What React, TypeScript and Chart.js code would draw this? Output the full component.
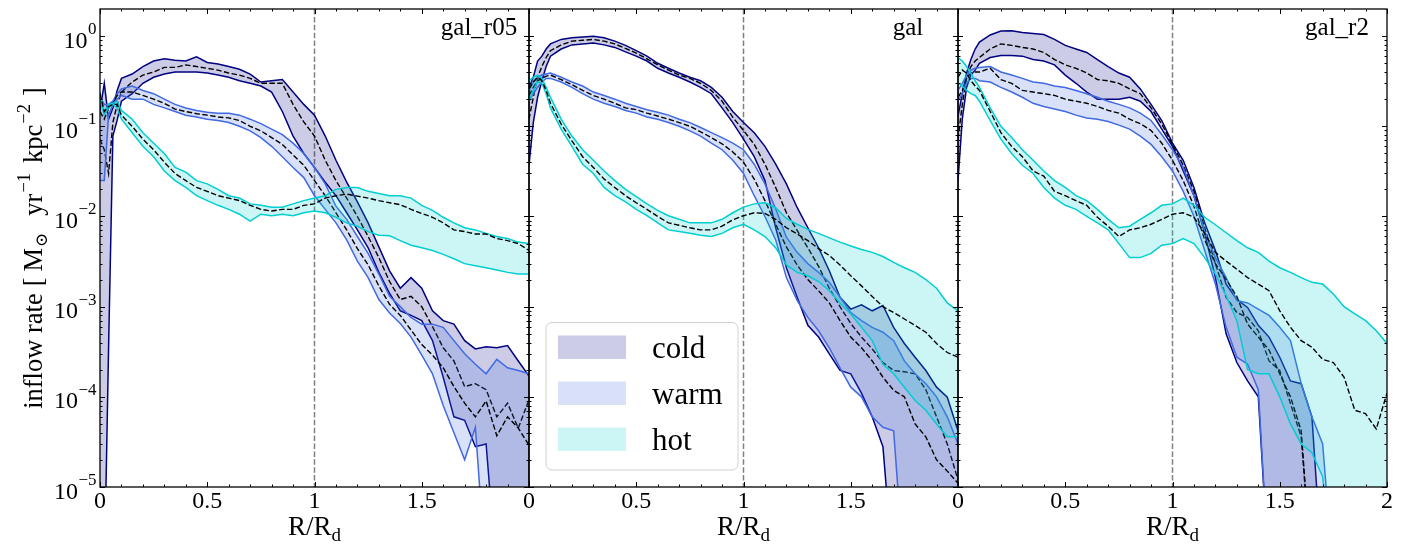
import React, { useEffect, useRef } from "react";
import { Chart, registerables } from "chart.js";

Chart.register(...registerables);

// ---------------- data ----------------
const xs = [0, 0.02, 0.04, 0.06, 0.08, 0.1, 0.15, 0.2, 0.25, 0.3, 0.35, 0.4, 0.45, 0.5, 0.55, 0.6, 0.65, 0.7, 0.75, 0.8, 0.85, 0.9, 0.95, 1.0, 1.05, 1.1, 1.15, 1.2, 1.25, 1.3, 1.35, 1.4, 1.45, 1.5, 1.55, 1.6, 1.65, 1.7, 1.75, 1.8, 1.85, 1.9, 1.95, 2.0];

// gal_r05
const r05ColdHi = [0.15, 0.30, 0.12, 0.16, 0.25, 0.34, 0.38, 0.46, 0.53, 0.56, 0.54, 0.53, 0.59, 0.51, 0.49, 0.46, 0.43, 0.38, 0.31, 0.32, 0.33, 0.24, 0.175, 0.133, 0.078, 0.042, 0.024, 0.0145, 0.0085, 0.0046, 0.0025, 0.0016, 0.0021, 0.0016, 9e-4, 7e-4, 6.4e-4, 4.2e-4, 3.4e-4, 3.6e-4, 3.5e-4, 3.7e-4, 2.5e-4, 1.7e-4];
const r05ColdLo = [1e-6, 1e-6, 3.5e-4, 0.078, 0.117, 0.19, 0.23, 0.30, 0.35, 0.38, 0.40, 0.40, 0.40, 0.39, 0.37, 0.35, 0.32, 0.30, 0.28, 0.24, 0.146, 0.078, 0.050, 0.035, 0.024, 0.017, 0.011, 0.0071, 0.0045, 0.0024, 0.0014, 9e-4, 8e-4, 7e-4, 4.2e-4, 1.65e-4, 6e-5, 5.5e-5, 2.8e-5, 3e-5, 1e-6, 1e-6, 1e-6, 1e-6];
const r05ColdMed = [0.072, 0.055, 0.03, 0.11, 0.175, 0.24, 0.31, 0.37, 0.40, 0.45, 0.45, 0.48, 0.46, 0.44, 0.42, 0.39, 0.37, 0.34, 0.30, 0.30, 0.30, 0.175, 0.112, 0.078, 0.042, 0.025, 0.016, 0.010, 0.0060, 0.0035, 0.0019, 0.0012, 0.0013, 0.0010, 6e-4, 3.5e-4, 2.5e-4, 1.3e-4, 1.4e-4, 1.2e-4, 6e-5, 8.5e-5, 4.5e-5, 9.3e-5];
const r05WarmHi = [0.21, 0.175, 0.175, 0.19, 0.23, 0.26, 0.28, 0.25, 0.23, 0.20, 0.175, 0.16, 0.15, 0.143, 0.14, 0.14, 0.133, 0.12, 0.107, 0.093, 0.081, 0.065, 0.050, 0.035, 0.023, 0.013, 0.0093, 0.0060, 0.0039, 0.0023, 0.0013, 0.0010, 7.6e-4, 6.4e-4, 6.4e-4, 5.9e-4, 4.2e-4, 3e-4, 2.3e-4, 1.8e-4, 2.6e-4, 2.1e-4, 1.96e-4, 1.8e-4];
const r05WarmLo = [0.025, 0.025, 0.133, 0.175, 0.20, 0.22, 0.20, 0.20, 0.175, 0.16, 0.146, 0.133, 0.127, 0.12, 0.116, 0.11, 0.10, 0.089, 0.075, 0.060, 0.046, 0.035, 0.027, 0.017, 0.012, 0.0085, 0.0055, 0.0032, 0.0021, 0.0012, 8.5e-4, 6.5e-4, 4.6e-4, 2.9e-4, 1.8e-4, 8e-5, 4e-5, 2e-5, 4.6e-5, 1e-6, 1e-6, 1e-6, 1e-6, 1e-6];
const r05WarmMed = [0.146, 0.12, 0.16, 0.18, 0.22, 0.24, 0.24, 0.22, 0.20, 0.18, 0.155, 0.146, 0.138, 0.133, 0.127, 0.124, 0.116, 0.10, 0.089, 0.075, 0.063, 0.048, 0.037, 0.025, 0.017, 0.011, 0.0071, 0.0044, 0.0029, 0.0017, 0.00106, 8e-4, 5.5e-4, 3.8e-4, 2.9e-4, 2.1e-4, 1.3e-4, 8.5e-5, 6e-5, 9e-5, 3.7e-5, 6e-5, 4.5e-5, 2.9e-5];
const r05HotHi = [0.24, 0.14, 0.175, 0.18, 0.19, 0.15, 0.12, 0.085, 0.065, 0.050, 0.035, 0.031, 0.025, 0.023, 0.020, 0.017, 0.016, 0.0138, 0.0133, 0.0127, 0.0127, 0.0138, 0.015, 0.016, 0.017, 0.020, 0.021, 0.021, 0.019, 0.018, 0.017, 0.017, 0.016, 0.0133, 0.0117, 0.0098, 0.0085, 0.0075, 0.0071, 0.0065, 0.0060, 0.0057, 0.0052, 0.0050];
const r05HotLo = [0.21, 0.133, 0.16, 0.175, 0.16, 0.12, 0.085, 0.060, 0.046, 0.032, 0.025, 0.021, 0.017, 0.015, 0.0133, 0.012, 0.0106, 0.0089, 0.0106, 0.0102, 0.0106, 0.0102, 0.011, 0.0115, 0.011, 0.0098, 0.0085, 0.0078, 0.0068, 0.0062, 0.0061, 0.0054, 0.0048, 0.0045, 0.0042, 0.0038, 0.0034, 0.0030, 0.00285, 0.0027, 0.00255, 0.0024, 0.0023, 0.0023];
const r05HotMed = [0.23, 0.146, 0.166, 0.175, 0.175, 0.133, 0.10, 0.072, 0.055, 0.040, 0.030, 0.025, 0.021, 0.019, 0.017, 0.016, 0.015, 0.0133, 0.012, 0.0115, 0.012, 0.012, 0.0133, 0.0138, 0.016, 0.017, 0.0177, 0.0168, 0.016, 0.015, 0.0142, 0.0135, 0.012, 0.0108, 0.0098, 0.0085, 0.0071, 0.0068, 0.0064, 0.0064, 0.0057, 0.0054, 0.0050, 0.0042];

// gal
const galColdHi = [0.27, 0.35, 0.53, 0.60, 0.72, 0.82, 0.92, 0.96, 0.98, 1.0, 0.96, 0.88, 0.79, 0.69, 0.60, 0.50, 0.44, 0.39, 0.35, 0.32, 0.27, 0.21, 0.146, 0.11, 0.085, 0.060, 0.038, 0.023, 0.0126, 0.0075, 0.0045, 0.0025, 0.00127, 9.4e-4, 1.05e-3, 9e-4, 1.03e-3, 5.9e-4, 3.9e-4, 2.75e-4, 1.96e-4, 1.28e-4, 9.9e-5, 4.2e-5];
const galColdLo = [0.037, 0.11, 0.21, 0.32, 0.46, 0.60, 0.72, 0.80, 0.82, 0.84, 0.80, 0.75, 0.67, 0.60, 0.53, 0.44, 0.39, 0.35, 0.31, 0.27, 0.23, 0.16, 0.11, 0.072, 0.046, 0.025, 0.0075, 0.0027, 0.00127, 6.2e-4, 4.6e-4, 3.0e-4, 1.96e-4, 1.8e-4, 1.1e-4, 6e-5, 2.8e-5, 1e-6, 1e-6, 1e-6, 1e-6, 1e-6, 1e-6, 1e-6];
const galColdMed = [0.12, 0.21, 0.35, 0.46, 0.58, 0.69, 0.80, 0.88, 0.90, 0.92, 0.88, 0.82, 0.73, 0.65, 0.56, 0.48, 0.42, 0.37, 0.34, 0.30, 0.25, 0.19, 0.126, 0.09, 0.063, 0.038, 0.021, 0.011, 0.007, 0.0045, 0.0028, 0.0016, 0.0010, 6.5e-4, 4.6e-4, 3.4e-4, 2.4e-4, 1.96e-4, 1.9e-4, 1.8e-4, 1.2e-4, 6e-5, 3e-5, 1.2e-5];
const galWarmHi = [0.25, 0.31, 0.35, 0.37, 0.38, 0.39, 0.35, 0.31, 0.28, 0.24, 0.22, 0.20, 0.18, 0.166, 0.153, 0.143, 0.133, 0.12, 0.11, 0.097, 0.085, 0.075, 0.065, 0.055, 0.038, 0.023, 0.0122, 0.0059, 0.0040, 0.0030, 0.0024, 0.00186, 0.00127, 8.6e-4, 7.0e-4, 5.9e-4, 5.2e-4, 4.2e-4, 2.5e-4, 1.8e-4, 1.4e-4, 1.0e-4, 6e-5, 3e-5];
const galWarmLo = [0.19, 0.23, 0.27, 0.31, 0.34, 0.34, 0.31, 0.27, 0.23, 0.20, 0.18, 0.166, 0.15, 0.14, 0.127, 0.12, 0.11, 0.10, 0.089, 0.078, 0.065, 0.055, 0.042, 0.030, 0.017, 0.010, 0.0055, 0.0021, 0.00117, 7.6e-4, 5.4e-4, 3.5e-4, 2.1e-4, 1.28e-4, 1.0e-4, 6e-5, 4.6e-5, 4.2e-5, 1e-6, 1e-6, 1e-6, 1e-6, 1e-6, 1e-6];
const galWarmMed = [0.22, 0.27, 0.32, 0.34, 0.36, 0.37, 0.33, 0.29, 0.25, 0.22, 0.20, 0.18, 0.16, 0.153, 0.14, 0.13, 0.12, 0.11, 0.10, 0.087, 0.075, 0.064, 0.052, 0.040, 0.026, 0.015, 0.0082, 0.0046, 0.0029, 0.0020, 0.0015, 0.0011, 7e-4, 4.6e-4, 3.5e-4, 2.5e-4, 1.65e-4, 1.18e-4, 1.0e-4, 5e-5, 3.6e-5, 2e-5, 1.5e-5, 1.1e-5];
const galHotHi = [0.32, 0.35, 0.37, 0.34, 0.27, 0.21, 0.12, 0.078, 0.055, 0.042, 0.032, 0.025, 0.020, 0.0166, 0.0138, 0.0117, 0.0102, 0.0093, 0.0085, 0.0085, 0.0085, 0.0093, 0.011, 0.0127, 0.0138, 0.0142, 0.0125, 0.0095, 0.0082, 0.0072, 0.0065, 0.0058, 0.0052, 0.0047, 0.0043, 0.0040, 0.0036, 0.0031, 0.0027, 0.0024, 0.0020, 0.0016, 0.0011, 9e-4];
const galHotLo = [0.19, 0.25, 0.31, 0.30, 0.23, 0.16, 0.093, 0.060, 0.038, 0.030, 0.021, 0.017, 0.0145, 0.012, 0.0102, 0.0085, 0.0071, 0.0068, 0.0065, 0.0062, 0.006, 0.0065, 0.0075, 0.0082, 0.0071, 0.0060, 0.0045, 0.0029, 0.0024, 0.0022, 0.0019, 0.0015, 0.0011, 8.3e-4, 5.9e-4, 4.2e-4, 2.3e-4, 1.8e-4, 1.28e-4, 9.1e-5, 7.1e-5, 5e-5, 3.6e-5, 3.6e-5];
const galHotMed = [0.26, 0.31, 0.35, 0.32, 0.25, 0.18, 0.106, 0.069, 0.046, 0.035, 0.026, 0.021, 0.017, 0.0142, 0.012, 0.010, 0.0085, 0.008, 0.0075, 0.0071, 0.0071, 0.0078, 0.0092, 0.0102, 0.011, 0.0108, 0.0093, 0.0075, 0.0064, 0.0054, 0.0044, 0.0037, 0.0029, 0.0022, 0.0017, 0.0013, 0.0010, 8.6e-4, 7.3e-4, 6.2e-4, 5.2e-4, 3.9e-4, 3.1e-4, 2.75e-4];

// gal_r2
const r2ColdHi = [0.13, 0.23, 0.39, 0.55, 0.72, 0.86, 1.03, 1.14, 1.15, 1.10, 1.07, 1.04, 0.92, 0.79, 0.72, 0.66, 0.55, 0.46, 0.39, 0.35, 0.26, 0.175, 0.116, 0.065, 0.042, 0.021, 0.0085, 0.0042, 0.00178, 0.0012, 9.8e-4, 6.2e-4, 4.6e-4, 2.75e-4, 1.5e-4, 1.4e-4, 6e-5, 1e-6, 1e-6, 1e-6, 1e-6, 1e-6, 1e-6, 1e-6];
const r2ColdLo = [0.025, 0.12, 0.27, 0.37, 0.42, 0.50, 0.58, 0.61, 0.61, 0.60, 0.55, 0.53, 0.48, 0.37, 0.30, 0.24, 0.20, 0.20, 0.20, 0.21, 0.19, 0.146, 0.093, 0.060, 0.032, 0.017, 0.0065, 0.0021, 5e-4, 2.4e-4, 1.5e-4, 1.0e-4, 1e-6, 1e-6, 1e-6, 1e-6, 1e-6, 1e-6, 1e-6, 1e-6, 1e-6, 1e-6, 1e-6, 1e-6];
const r2ColdMed = [0.072, 0.175, 0.35, 0.46, 0.53, 0.58, 0.72, 0.82, 0.79, 0.75, 0.72, 0.66, 0.55, 0.48, 0.44, 0.39, 0.33, 0.32, 0.30, 0.26, 0.23, 0.16, 0.106, 0.063, 0.037, 0.019, 0.0075, 0.0030, 0.00127, 8.6e-4, 7.6e-4, 5.4e-4, 2.5e-4, 1.96e-4, 8.4e-5, 3.6e-5, 1e-6, 1e-6, 1e-6, 1e-6, 1e-6, 1e-6, 1e-6, 1e-6];
const r2WarmHi = [0.25, 0.30, 0.37, 0.42, 0.44, 0.45, 0.46, 0.40, 0.37, 0.34, 0.31, 0.30, 0.28, 0.27, 0.25, 0.23, 0.21, 0.19, 0.175, 0.16, 0.14, 0.116, 0.081, 0.055, 0.035, 0.017, 0.0068, 0.0035, 0.0021, 0.00117, 0.0011, 9.4e-4, 8e-4, 5.9e-4, 4.2e-4, 1.4e-4, 6e-5, 3e-5, 1e-6, 1e-6, 1e-6, 1e-6, 1e-6, 1e-6];
const r2WarmLo = [0.19, 0.23, 0.30, 0.34, 0.34, 0.32, 0.31, 0.27, 0.24, 0.21, 0.18, 0.166, 0.156, 0.146, 0.133, 0.124, 0.12, 0.113, 0.103, 0.093, 0.078, 0.063, 0.046, 0.032, 0.019, 0.010, 0.0042, 0.00178, 5.9e-4, 2.75e-4, 2.3e-4, 1.2e-4, 1e-6, 1e-6, 1e-6, 1e-6, 1e-6, 1e-6, 1e-6, 1e-6, 1e-6, 1e-6, 1e-6, 1e-6];
const r2WarmMed = [0.21, 0.25, 0.34, 0.39, 0.40, 0.40, 0.44, 0.33, 0.30, 0.25, 0.24, 0.23, 0.22, 0.20, 0.19, 0.18, 0.166, 0.15, 0.14, 0.12, 0.107, 0.09, 0.065, 0.042, 0.025, 0.013, 0.0055, 0.0030, 0.0020, 0.0013, 6.4e-4, 4.6e-4, 3.3e-4, 1.8e-4, 1.0e-4, 4.2e-5, 1e-6, 1e-6, 1e-6, 1e-6, 1e-6, 1e-6, 1e-6, 1e-6];
const r2HotHi = [0.58, 0.53, 0.46, 0.39, 0.32, 0.27, 0.16, 0.10, 0.075, 0.055, 0.042, 0.032, 0.025, 0.021, 0.017, 0.015, 0.012, 0.0093, 0.0075, 0.0078, 0.0093, 0.011, 0.0133, 0.0138, 0.016, 0.0133, 0.0098, 0.0081, 0.0066, 0.0054, 0.0045, 0.0040, 0.0032, 0.0027, 0.0024, 0.0021, 0.00186, 0.00178, 0.00138, 0.0010, 8.3e-4, 7.0e-4, 5.4e-4, 3.9e-4];
const r2HotLo = [0.30, 0.28, 0.25, 0.23, 0.22, 0.19, 0.116, 0.072, 0.050, 0.037, 0.030, 0.021, 0.016, 0.0133, 0.012, 0.010, 0.0085, 0.0071, 0.005, 0.0035, 0.0035, 0.0039, 0.0048, 0.005, 0.0057, 0.005, 0.0035, 0.0023, 0.00132, 7.0e-4, 2.0e-4, 1.8e-4, 1.8e-4, 1.0e-4, 5e-5, 3e-5, 2.4e-5, 1.3e-5, 1e-6, 1e-6, 1e-6, 1e-6, 1e-6, 1e-6];
const r2HotMed = [0.35, 0.42, 0.39, 0.32, 0.28, 0.25, 0.146, 0.085, 0.060, 0.046, 0.032, 0.028, 0.019, 0.017, 0.015, 0.0133, 0.0098, 0.0078, 0.006, 0.0071, 0.0075, 0.0082, 0.0093, 0.0106, 0.011, 0.0098, 0.0065, 0.0040, 0.0032, 0.0026, 0.0021, 0.00178, 0.0015, 9e-4, 5.9e-4, 4.2e-4, 3.55e-4, 2.6e-4, 2.4e-4, 1.65e-4, 7.1e-5, 6.5e-5, 4.4e-5, 1.1e-4];

// ticks / labels
const xMajorTicks = [0, 0.5, 1, 1.5, 2];
const xTickLabels = ["0", "0.5", "1", "1.5", "2"];
const xMinorTicks = [0.1, 0.2, 0.3, 0.4, 0.6, 0.7, 0.8, 0.9, 1.1, 1.2, 1.3, 1.4, 1.6, 1.7, 1.8, 1.9];
const yMajorTicks = [1e-5, 1e-4, 1e-3, 1e-2, 1e-1, 1];
const yTickExponents = ["\u22125", "\u22124", "\u22123", "\u22122", "\u22121", "0"];
const yMinorMantissas = [2, 3, 4, 5, 6, 7, 8, 9];
const panelNames = ["gal_r05", "gal", "gal_r2"];
const phaseNames = ["cold", "warm", "hot"];
const refRadius = 1;

const PANELS = [
  { name: panelNames[0], phases: [[r05ColdHi, r05ColdLo, r05ColdMed], [r05WarmHi, r05WarmLo, r05WarmMed], [r05HotHi, r05HotLo, r05HotMed]] },
  { name: panelNames[1], phases: [[galColdHi, galColdLo, galColdMed], [galWarmHi, galWarmLo, galWarmMed], [galHotHi, galHotLo, galHotMed]] },
  { name: panelNames[2], phases: [[r2ColdHi, r2ColdLo, r2ColdMed], [r2WarmHi, r2WarmLo, r2WarmMed], [r2HotHi, r2HotLo, r2HotMed]] },
];

// ---------------- style / layout ----------------
const W = 1414;
const H = 545;
const PLOT_TOP = 9;
const PLOT_BOTTOM = 487;
const PANEL_LEFT = [100, 529, 958];
const PANEL_W = 429;
const FONT = '"Liberation Serif", "DejaVu Serif", serif';
const EDGE = ["#000080", "#4169E1", "#00CED1"];
const FILL = ["rgba(0,0,128,0.2)", "rgba(65,105,225,0.2)", "rgba(0,206,209,0.2)"];
const DASH = [5.5, 2.4];

type Seg = { t: string; size: number; dy?: number; gap?: number };

function segsWidth(ctx: CanvasRenderingContext2D, segs: Seg[]) {
  let w = 0;
  for (const s of segs) {
    ctx.font = `${s.size}px ${FONT}`;
    w += (s.gap || 0) + ctx.measureText(s.t).width;
  }
  return w;
}

function drawSegs(ctx: CanvasRenderingContext2D, segs: Seg[], x0: number, base: number) {
  let cx = x0;
  for (const s of segs) {
    cx += s.gap || 0;
    ctx.font = `${s.size}px ${FONT}`;
    ctx.fillText(s.t, cx, base + (s.dy || 0));
    cx += ctx.measureText(s.t).width;
  }
}

function makePlugin(p: number) {
  return {
    id: "panelDeco" + p,
    beforeDatasetsDraw(chart: any) {
      const { ctx, chartArea: a, scales } = chart;
      const px = scales.x.getPixelForValue(refRadius);
      ctx.save();
      ctx.strokeStyle = "#808080";
      ctx.lineWidth = 1.5;
      ctx.setLineDash(DASH);
      ctx.beginPath();
      ctx.moveTo(px, a.top);
      ctx.lineTo(px, a.bottom);
      ctx.stroke();
      ctx.restore();
    },
    afterDraw(chart: any) {
      const { ctx, chartArea: a, scales } = chart;
      const xs_ = scales.x;
      const ys_ = scales.y;
      ctx.save();
      ctx.setLineDash([]);
      ctx.strokeStyle = "#000";
      ctx.fillStyle = "#000";

      // ticks
      ctx.lineWidth = 1;
      const tickX = (v: number, len: number) => {
        const px = Math.round(xs_.getPixelForValue(v)) + 0.5;
        ctx.beginPath();
        ctx.moveTo(px, a.bottom);
        ctx.lineTo(px, a.bottom - len);
        ctx.moveTo(px, a.top);
        ctx.lineTo(px, a.top + len);
        ctx.stroke();
      };
      const tickY = (v: number, len: number) => {
        const py = Math.round(ys_.getPixelForValue(v)) + 0.5;
        ctx.beginPath();
        ctx.moveTo(a.left, py);
        ctx.lineTo(a.left + len, py);
        ctx.moveTo(a.right, py);
        ctx.lineTo(a.right - len, py);
        ctx.stroke();
      };
      xMajorTicks.forEach((v) => tickX(v, 5));
      xMinorTicks.forEach((v) => tickX(v, 2.5));
      yMajorTicks.forEach((v) => tickY(v, 5));
      yMajorTicks.forEach((d) => {
        yMinorMantissas.forEach((m) => {
          const v = m * d;
          if (v < 2) tickY(v, 2.5);
        });
      });

      // spines
      ctx.lineWidth = 1.3;
      ctx.strokeRect(a.left, a.top, a.right - a.left, a.bottom - a.top);

      // x tick labels
      ctx.font = `24px ${FONT}`;
      ctx.textAlign = "center";
      ctx.textBaseline = "alphabetic";
      xMajorTicks.forEach((v, i) => {
        if (p < 2 && i === xMajorTicks.length - 1) return;
        ctx.fillText(xTickLabels[i], xs_.getPixelForValue(v), 508);
      });

      // panel name
      ctx.font = `25px ${FONT}`;
      ctx.textAlign = "center";
      ctx.fillText(PANELS[p].name, a.left + 379, 35);

      // x title
      ctx.textAlign = "left";
      const xt: Seg[] = [
        { t: "R/R", size: 27 },
        { t: "d", size: 19, dy: 6 },
      ];
      const xw = segsWidth(ctx, xt);
      drawSegs(ctx, xt, (a.left + a.right) / 2 - xw / 2, 535);

      if (p === 0) {
        // y tick labels
        yMajorTicks.forEach((v, i) => {
          const py = ys_.getPixelForValue(v);
          const segs: Seg[] = [
            { t: "10", size: 24 },
            { t: yTickExponents[i], size: 17, dy: -13.5, gap: 0.5 },
          ];
          const w = segsWidth(ctx, segs);
          drawSegs(ctx, segs, a.left - 3.5 - w, py + 11.5);
        });
        // y title (rotated)
        const yt: Seg[] = [
          { t: "inflow rate", size: 26.5 },
          { t: "[", size: 26.5, gap: 7 },
          { t: "M", size: 26.5, gap: 6 },
          { t: "\u2299", size: 17, dy: 5, gap: 1 },
          { t: "yr", size: 26.5, gap: 17 },
          { t: "\u22121", size: 18.5, dy: -12, gap: 1 },
          { t: "kpc", size: 26.5, gap: 10 },
          { t: "\u22122", size: 18.5, dy: -12, gap: 1 },
          { t: "]", size: 26.5, gap: 8 },
        ];
        const tw = segsWidth(ctx, yt);
        const cy = (a.top + a.bottom) / 2;
        ctx.save();
        ctx.translate(42, cy + tw / 2);
        ctx.rotate(-Math.PI / 2);
        drawSegs(ctx, yt, 0, 0);
        ctx.restore();
      }

      if (p === 1) {
        // legend
        const lx = a.left + 17;
        const ly = 322.5;
        const lw = 192;
        const lh = 147.5;
        ctx.beginPath();
        ctx.roundRect(lx, ly, lw, lh, 6);
        ctx.fillStyle = "rgba(255,255,255,0.8)";
        ctx.fill();
        ctx.strokeStyle = "rgba(204,204,204,0.9)";
        ctx.lineWidth = 1;
        ctx.stroke();
        phaseNames.forEach((name, k) => {
          const top = 335.5 + k * 46;
          ctx.fillStyle = FILL[k];
          ctx.fillRect(lx + 12, top, 68, 23.5);
          ctx.fillStyle = "#000";
          ctx.font = `31px ${FONT}`;
          ctx.textAlign = "left";
          ctx.fillText(name, lx + 106, top + 22.5);
        });
      }
      ctx.restore();
    },
  };
}

function buildConfig(p: number): any {
  const panel = PANELS[p];
  const datasets: any[] = [];
  let order = 1000;
  panel.phases.forEach((ph, k) => {
    const [hi, lo, med] = ph;
    datasets.push({
      label: phaseNames[k] + " upper",
      data: xs.map((x, i) => ({ x, y: hi[i] })),
      borderColor: EDGE[k],
      backgroundColor: FILL[k],
      borderWidth: 1.5,
      fill: "+1",
      pointRadius: 0,
      tension: 0,
      order: order--,
    });
    datasets.push({
      label: phaseNames[k] + " lower",
      data: xs.map((x, i) => ({ x, y: lo[i] })),
      borderColor: EDGE[k],
      borderWidth: 1.5,
      fill: false,
      pointRadius: 0,
      tension: 0,
      order: order--,
    });
    datasets.push({
      label: phaseNames[k] + " median",
      data: xs.map((x, i) => ({ x, y: med[i] })),
      borderColor: "#000",
      borderWidth: 1.4,
      borderDash: DASH,
      fill: false,
      pointRadius: 0,
      tension: 0,
      order: order--,
    });
  });
  const left = PANEL_LEFT[p];
  return {
    type: "line",
    data: { datasets },
    options: {
      animation: false,
      responsive: false,
      devicePixelRatio: 1,
      events: [],
      layout: {
        padding: { left, right: W - (left + PANEL_W), top: PLOT_TOP, bottom: H - PLOT_BOTTOM },
      },
      plugins: { legend: { display: false }, tooltip: { enabled: false }, title: { display: false } },
      scales: {
        x: { type: "linear", min: 0, max: 2, display: false },
        y: { type: "logarithmic", min: 1e-5, max: 2, display: false },
      },
    },
    plugins: [makePlugin(p)],
  };
}

export default function App() {
  const r0 = useRef<HTMLCanvasElement | null>(null);
  const r1 = useRef<HTMLCanvasElement | null>(null);
  const r2 = useRef<HTMLCanvasElement | null>(null);
  useEffect(() => {
    const refs = [r0, r1, r2];
    const charts = refs.map((r, p) => new Chart(r.current as HTMLCanvasElement, buildConfig(p)));
    return () => charts.forEach((c) => c.destroy());
  }, []);
  const cs: React.CSSProperties = { position: "absolute", left: 0, top: 0, width: W, height: H };
  return (
    <div style={{ position: "absolute", left: 0, top: 0, width: W, height: H, background: "#fff", overflow: "hidden" }}>
      <canvas ref={r0} width={W} height={H} style={cs} />
      <canvas ref={r1} width={W} height={H} style={cs} />
      <canvas ref={r2} width={W} height={H} style={cs} />
    </div>
  );
}
